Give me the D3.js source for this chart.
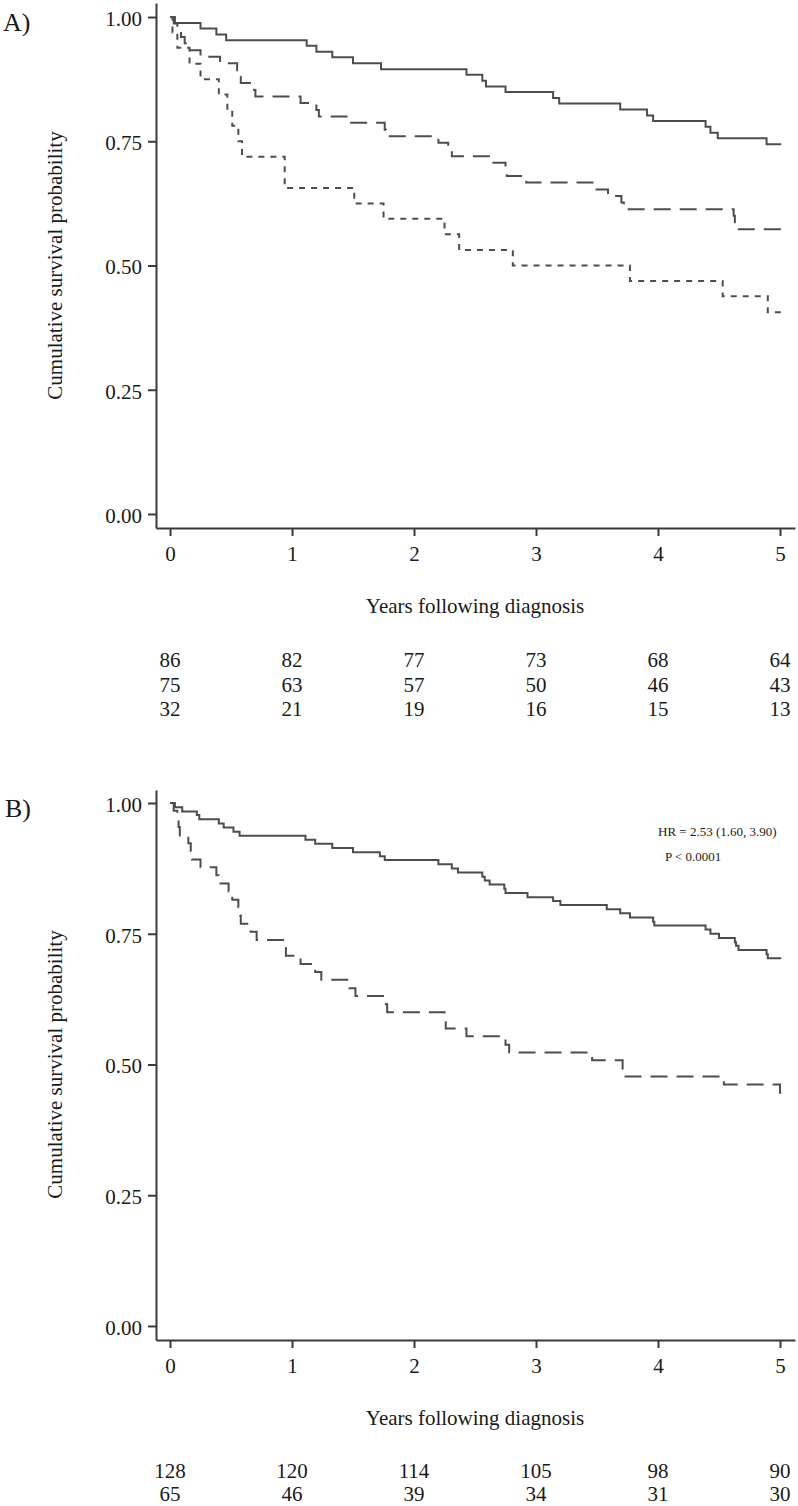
<!DOCTYPE html>
<html>
<head>
<meta charset="utf-8">
<script src="https://cdn.jsdelivr.net/npm/d3@7"></script>
<style>
  html, body { margin: 0; padding: 0; background: #fff; }
  svg { display: block; }
  text { font-family: "Liberation Serif", "Times New Roman", serif; fill: #1a1a1a; }
</style>
</head>
<body>
<svg id="chart" width="798" height="1506"></svg>
<script>
// ---------------- DATA ----------------
const xTicks = [0, 1, 2, 3, 4, 5];
const yTicks = [0, 0.25, 0.5, 0.75, 1];
const yTitle = "Cumulative survival probability";
const xTitle = "Years following diagnosis";
const panelLabels = ["A)", "B)"];

// Panel A – solid group
const timesA1 = [0, 0.04, 0.25, 0.38, 0.46, 1.12, 1.20, 1.33, 1.50, 1.73, 2.43, 2.56, 2.59, 2.75, 3.14, 3.19, 3.69, 3.91, 3.96, 4.39, 4.43, 4.49, 4.89, 5.01];
const survA1  = [1, 0.988, 0.977, 0.965, 0.953, 0.942, 0.930, 0.919, 0.907, 0.895, 0.884, 0.872, 0.860, 0.849, 0.837, 0.826, 0.814, 0.802, 0.791, 0.779, 0.767, 0.756, 0.744, 0.744];
// Panel A – long-dash group
const timesA2 = [0, 0.03, 0.06, 0.09, 0.12, 0.15, 0.25, 0.41, 0.55, 0.57, 0.58, 0.69, 0.70, 1.07, 1.20, 1.22, 1.47, 1.76, 1.77, 2.20, 2.28, 2.31, 2.63, 2.75, 2.76, 2.92, 3.48, 3.59, 3.70, 3.72, 4.62, 4.63, 4.64, 5.01];
const survA2  = [1, 0.987, 0.973, 0.960, 0.947, 0.933, 0.920, 0.907, 0.893, 0.880, 0.867, 0.853, 0.840, 0.827, 0.813, 0.800, 0.787, 0.773, 0.760, 0.747, 0.733, 0.720, 0.707, 0.693, 0.680, 0.667, 0.653, 0.640, 0.627, 0.613, 0.600, 0.587, 0.573, 0.573];
// Panel A – short-dash group
const timesA3 = [0, 0.02, 0.06, 0.16, 0.25, 0.40, 0.47, 0.51, 0.56, 0.59, 0.94, 1.51, 1.75, 2.25, 2.37, 2.81, 3.77, 4.53, 4.90, 5.01];
const survA3  = [1, 0.969, 0.938, 0.906, 0.875, 0.844, 0.813, 0.781, 0.750, 0.719, 0.656, 0.625, 0.594, 0.563, 0.531, 0.500, 0.469, 0.438, 0.406, 0.406];

// Panel B – solid group
const timesB1 = [0, 0.04, 0.10, 0.22, 0.24, 0.40, 0.44, 0.52, 0.57, 1.11, 1.19, 1.33, 1.50, 1.72, 1.76, 2.20, 2.31, 2.36, 2.56, 2.58, 2.62, 2.74, 2.75, 2.93, 3.14, 3.20, 3.58, 3.69, 3.77, 3.96, 3.97, 4.39, 4.43, 4.50, 4.63, 4.64, 4.66, 4.89, 4.90, 5.01];
const survB1  = [1, 0.992, 0.984, 0.977, 0.969, 0.961, 0.953, 0.945, 0.9375, 0.930, 0.922, 0.914, 0.906, 0.898, 0.891, 0.883, 0.875, 0.867, 0.859, 0.852, 0.844, 0.836, 0.828, 0.820, 0.8125, 0.805, 0.797, 0.789, 0.781, 0.773, 0.766, 0.758, 0.750, 0.742, 0.734, 0.727, 0.719, 0.711, 0.703, 0.703];
// Panel B – long-dash group
const timesB2 = [0, 0.03, 0.06, 0.07, 0.08, 0.15, 0.17, 0.18, 0.25, 0.38, 0.40, 0.48, 0.51, 0.56, 0.575, 0.58, 0.66, 0.71, 0.94, 0.95, 1.07, 1.19, 1.24, 1.47, 1.52, 1.77, 1.78, 2.25, 2.26, 2.43, 2.75, 2.78, 3.46, 3.71, 3.72, 4.54, 5.00, 5.01];
const survB2  = [1, 0.985, 0.969, 0.954, 0.938, 0.923, 0.908, 0.892, 0.877, 0.862, 0.846, 0.831, 0.815, 0.800, 0.785, 0.769, 0.754, 0.738, 0.723, 0.708, 0.692, 0.677, 0.662, 0.646, 0.631, 0.615, 0.600, 0.585, 0.569, 0.554, 0.538, 0.523, 0.508, 0.492, 0.477, 0.462, 0.446, 0.446];

// Numbers at risk
const riskA1 = [86, 82, 77, 73, 68, 64];
const riskA2 = [75, 63, 57, 50, 46, 43];
const riskA3 = [32, 21, 19, 16, 15, 13];
const riskB1 = [128, 120, 114, 105, 98, 90];
const riskB2 = [65, 46, 39, 34, 31, 30];

const hrText = "HR = 2.53 (1.60, 3.90)";
const pText = "P < 0.0001";

// ---------------- DRAW ----------------
const svg = d3.select("#chart");
const curveColor = "#4d4d4d";
const axisColor = "#3a3a3a";
const styles = { solid: null, long: "17,9", short: "6,6" };

const x = d3.scaleLinear().domain([-0.115, 5.123]).range([156, 795]);

function panel(cfg) {
  const y = d3.scaleLinear().domain(cfg.yDomain).range(cfg.yRange);
  const axisY = cfg.yRange[0];
  const g = svg.append("g");

  // curves
  const line = d3.line()
    .x(d => x(d[0]))
    .y(d => y(d[1]))
    .curve(d3.curveStepAfter);
  cfg.series.forEach(s => {
    const pts = s.t.map((t, i) => [t, s.s[i]]);
    g.append("path")
      .datum(pts)
      .attr("d", line)
      .attr("fill", "none")
      .attr("stroke", curveColor)
      .attr("stroke-width", 2)
      .attr("stroke-dasharray", styles[s.style]);
  });

  // y axis
  const yAx = g.append("g")
    .attr("transform", `translate(${x.range()[0]},0)`)
    .call(d3.axisLeft(y).tickValues(yTicks).tickFormat(d3.format(".2f")).tickSize(8).tickSizeOuter(0).tickPadding(6));
  yAx.selectAll("text").attr("font-size", 21).attr("dy", "0.4em")
     .style("font-family", '"Liberation Serif", serif').attr("fill", "#1a1a1a");
  yAx.selectAll("line,path").attr("stroke", axisColor).attr("stroke-width", 2);

  // x axis
  const xAx = g.append("g")
    .attr("transform", `translate(0,${axisY})`)
    .call(d3.axisBottom(x).tickValues(xTicks).tickFormat(d3.format("d")).tickSize(8).tickSizeOuter(0).tickPadding(10));
  xAx.selectAll("text").attr("font-size", 21)
     .style("font-family", '"Liberation Serif", serif').attr("fill", "#1a1a1a");
  xAx.selectAll("line,path").attr("stroke", axisColor).attr("stroke-width", 2);

  // y title
  const yMid = (y(0) + y(1)) / 2;
  g.append("text")
    .attr("transform", `translate(62,${yMid}) rotate(-90)`)
    .attr("text-anchor", "middle")
    .attr("font-size", 21)
    .text(yTitle);

  // x title
  g.append("text")
    .attr("x", (x(0) + x(5)) / 2)
    .attr("y", axisY + 85)
    .attr("text-anchor", "middle")
    .attr("font-size", 21)
    .text(xTitle);

  // panel label
  g.append("text")
    .attr("x", cfg.labelX)
    .attr("y", y(1) + 14)
    .attr("font-size", 26)
    .text(cfg.label);

  // risk table
  cfg.risk.forEach((row, r) => {
    g.selectAll(null).data(row).enter().append("text")
      .attr("x", (d, i) => x(xTicks[i]))
      .attr("y", axisY + cfg.riskTop + r * cfg.riskStep)
      .attr("text-anchor", "middle")
      .attr("font-size", 21)
      .text(d => d);
  });

  if (cfg.annot) {
    cfg.annot.forEach(a => {
      g.append("text").attr("x", a.x).attr("y", a.y).attr("font-size", 13).text(a.text);
    });
  }
}

panel({
  label: panelLabels[0], labelX: 3,
  yDomain: [-0.0282, 1.0282], yRange: [528, 3],
  series: [
    { t: timesA1, s: survA1, style: "solid" },
    { t: timesA2, s: survA2, style: "long" },
    { t: timesA3, s: survA3, style: "short" }
  ],
  risk: [riskA1, riskA2, riskA3], riskTop: 139, riskStep: 24.5
});

panel({
  label: panelLabels[1], labelX: 5,
  yDomain: [-0.0268, 1.0249], yRange: [1340, 790],
  series: [
    { t: timesB1, s: survB1, style: "solid" },
    { t: timesB2, s: survB2, style: "long" }
  ],
  risk: [riskB1, riskB2], riskTop: 138, riskStep: 22.5,
  annot: [
    { x: 658, y: 835.5, text: hrText },
    { x: 665, y: 861, text: pText }
  ]
});
</script>
</body>
</html>
